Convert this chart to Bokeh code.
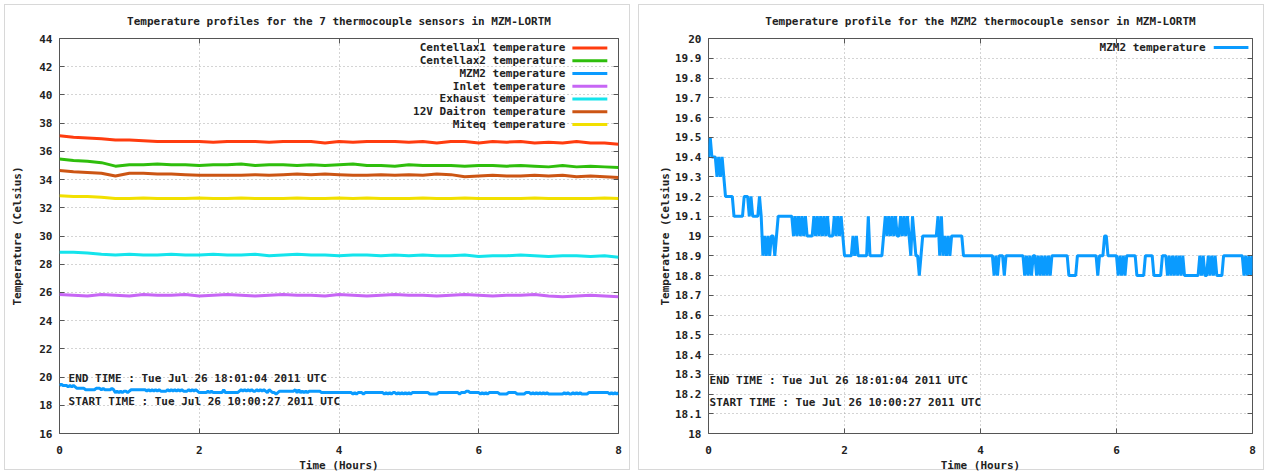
import numpy as np
from bokeh.plotting import figure
from bokeh.layouts import row
from bokeh.models import Range1d, LinearAxis, FixedTicker, Label
from bokeh.embed import file_html
from bokeh.resources import INLINE

# ---------------------------------------------------------------- data
# Six slow sensors, one reading every 0.2 h over the 8 h run
sample_hours = np.linspace(0, 8, 41)

centellax1 = [37.1, 37.0, 36.95, 36.9, 36.8, 36.8, 36.75, 36.7, 36.7, 36.7,
              36.7, 36.65, 36.7, 36.7, 36.7, 36.65, 36.7, 36.7, 36.7, 36.6,
              36.7, 36.65, 36.7, 36.7, 36.7, 36.65, 36.7, 36.6, 36.7, 36.7,
              36.6, 36.7, 36.65, 36.7, 36.6, 36.65, 36.6, 36.7, 36.6, 36.6, 36.5]
centellax2 = [35.45, 35.35, 35.3, 35.2, 34.95, 35.05, 35.05, 35.1, 35.05, 35.05,
              35.0, 35.05, 35.05, 35.1, 35.0, 35.05, 35.05, 35.0, 35.05, 35.0,
              35.05, 35.1, 35.0, 35.0, 34.95, 35.05, 35.0, 35.0, 35.0, 34.95,
              35.0, 35.0, 34.95, 35.0, 34.95, 34.9, 35.0, 34.9, 34.95, 34.9, 34.85]
inlet = [25.85, 25.8, 25.75, 25.85, 25.8, 25.75, 25.85, 25.8, 25.8, 25.85,
         25.75, 25.8, 25.85, 25.8, 25.75, 25.8, 25.85, 25.8, 25.8, 25.75,
         25.85, 25.8, 25.75, 25.8, 25.85, 25.8, 25.8, 25.75, 25.8, 25.85,
         25.8, 25.75, 25.8, 25.8, 25.85, 25.75, 25.7, 25.75, 25.8, 25.75, 25.7]
exhaust = [28.85, 28.85, 28.8, 28.7, 28.65, 28.7, 28.65, 28.65, 28.7, 28.65,
           28.65, 28.7, 28.65, 28.65, 28.7, 28.6, 28.65, 28.7, 28.65, 28.65,
           28.6, 28.65, 28.65, 28.6, 28.65, 28.6, 28.65, 28.6, 28.6, 28.65,
           28.55, 28.6, 28.6, 28.65, 28.6, 28.55, 28.6, 28.6, 28.55, 28.6, 28.5]
daitron = [34.65, 34.55, 34.5, 34.45, 34.25, 34.45, 34.45, 34.4, 34.4, 34.35,
           34.3, 34.3, 34.3, 34.3, 34.35, 34.3, 34.35, 34.4, 34.35, 34.4,
           34.35, 34.3, 34.3, 34.35, 34.3, 34.35, 34.3, 34.4, 34.35, 34.2,
           34.25, 34.3, 34.25, 34.25, 34.3, 34.25, 34.3, 34.2, 34.25, 34.2, 34.15]
miteq = [32.85, 32.8, 32.8, 32.75, 32.65, 32.65, 32.7, 32.65, 32.65, 32.65,
         32.7, 32.65, 32.65, 32.7, 32.65, 32.65, 32.65, 32.7, 32.65, 32.65,
         32.7, 32.65, 32.7, 32.65, 32.65, 32.65, 32.7, 32.65, 32.65, 32.7,
         32.65, 32.65, 32.65, 32.65, 32.7, 32.65, 32.65, 32.65, 32.65, 32.7, 32.65]

# MZM2 sensor, one reading every 0.025 h (0.1 C resolution)
mzm2_hours = np.linspace(0, 8, 321)
mzm2 = [
    19.4, 19.5, 19.4, 19.4, 19.4, 19.3, 19.4, 19.3, 19.4, 19.3,   # 0.0
    19.2, 19.2, 19.2, 19.2, 19.2, 19.1, 19.1, 19.1, 19.1, 19.1,   # 0.25
    19.1, 19.2, 19.2, 19.2, 19.1, 19.2, 19.1, 19.1, 19.1, 19.1,   # 0.5
    19.2, 19.1, 18.9, 19.0, 18.9, 19.0, 18.9, 19.0, 19.0, 18.9,   # 0.75
    19.0, 19.1, 19.1, 19.1, 19.1, 19.1, 19.1, 19.1, 19.1, 19.1,   # 1.0
    19.0, 19.1, 19.0, 19.1, 19.0, 19.1, 19.0, 19.1, 19.0, 19.0,   # 1.25
    19.0, 19.0, 19.1, 19.0, 19.1, 19.0, 19.1, 19.0, 19.1, 19.0,   # 1.5
    19.1, 19.0, 19.0, 19.0, 19.1, 19.0, 19.1, 19.0, 19.1, 19.0,   # 1.75
    18.9, 18.9, 18.9, 18.9, 18.9, 19.0, 18.9, 19.0, 18.9, 18.9,   # 2.0
    18.9, 18.9, 18.9, 18.9, 19.1, 18.9, 18.9, 18.9, 18.9, 18.9,   # 2.25
    18.9, 18.9, 18.9, 19.0, 19.1, 19.0, 19.1, 19.0, 19.1, 19.0,   # 2.5
    19.1, 19.0, 19.0, 19.1, 19.0, 19.1, 19.0, 19.1, 19.0, 18.9,   # 2.75
    19.1, 19.0, 18.9, 18.9, 18.8, 18.9, 19.0, 19.0, 19.0, 19.0,   # 3.0
    19.0, 19.0, 19.0, 19.0, 19.0, 19.1, 18.9, 19.1, 18.9, 19.0,   # 3.25
    18.9, 19.0, 18.9, 19.0, 19.0, 19.0, 19.0, 19.0, 19.0, 19.0,   # 3.5
    18.9, 18.9, 18.9, 18.9, 18.9, 18.9, 18.9, 18.9, 18.9, 18.9,   # 3.75
    18.9, 18.9, 18.9, 18.9, 18.9, 18.9, 18.9, 18.9, 18.8, 18.9,   # 4.0
    18.8, 18.9, 18.9, 18.9, 18.8, 18.9, 18.9, 18.9, 18.9, 18.9,   # 4.25
    18.9, 18.9, 18.9, 18.9, 18.9, 18.9, 18.8, 18.9, 18.8, 18.9,   # 4.5
    18.8, 18.9, 18.9, 18.8, 18.9, 18.8, 18.9, 18.8, 18.9, 18.8,   # 4.75
    18.9, 18.8, 18.9, 18.9, 18.9, 18.9, 18.9, 18.9, 18.9, 18.9,   # 5.0
    18.9, 18.9, 18.8, 18.8, 18.8, 18.8, 18.8, 18.9, 18.9, 18.9,   # 5.25
    18.9, 18.9, 18.9, 18.9, 18.9, 18.9, 18.9, 18.9, 18.9, 18.8,   # 5.5
    18.9, 18.9, 18.9, 19.0, 19.0, 18.9, 18.9, 18.9, 18.9, 18.9,   # 5.75
    18.9, 18.8, 18.9, 18.8, 18.9, 18.8, 18.9, 18.9, 18.9, 18.9,   # 6.0
    18.9, 18.9, 18.8, 18.8, 18.8, 18.8, 18.8, 18.9, 18.9, 18.9,   # 6.25
    18.9, 18.9, 18.8, 18.8, 18.8, 18.8, 18.8, 18.9, 18.9, 18.9,   # 6.5
    18.8, 18.9, 18.8, 18.9, 18.8, 18.9, 18.8, 18.9, 18.8, 18.9,   # 6.75
    18.8, 18.8, 18.8, 18.8, 18.8, 18.8, 18.8, 18.8, 18.8, 18.9,   # 7.0
    18.8, 18.9, 18.8, 18.8, 18.9, 18.8, 18.9, 18.8, 18.9, 18.8,   # 7.25
    18.8, 18.8, 18.8, 18.9, 18.9, 18.9, 18.9, 18.9, 18.9, 18.9,   # 7.5
    18.9, 18.9, 18.9, 18.9, 18.9, 18.8, 18.9, 18.8, 18.9, 18.8,   # 7.75
    18.9,                                                         # 8.0
]

left_series = [
    ("Centellax1 temperature", centellax1, "#ff3c0f"),
    ("Centellax2 temperature", centellax2, "#2fbe0c"),
    ("MZM2 temperature", mzm2, "#0a9bff"),
    ("Inlet temperature", inlet, "#c766f5"),
    ("Exhaust temperature", exhaust, "#14e4ec"),
    ("12V Daitron temperature", daitron, "#cc5514"),
    ("Miteq temperature", miteq, "#f2e000"),
]

time_ticks = [0, 2, 4, 6, 8]
left_yticks = [16, 18, 20, 22, 24, 26, 28, 30, 32, 34, 36, 38, 40, 42, 44]
right_yticks = [18.0, 18.1, 18.2, 18.3, 18.4, 18.5, 18.6, 18.7, 18.8, 18.9,
                19.0, 19.1, 19.2, 19.3, 19.4, 19.5, 19.6, 19.7, 19.8, 19.9, 20.0]
right_ytick_labels = ["18", "18.1", "18.2", "18.3", "18.4", "18.5", "18.6",
                      "18.7", "18.8", "18.9", "19", "19.1", "19.2", "19.3",
                      "19.4", "19.5", "19.6", "19.7", "19.8", "19.9", "20"]

end_time = "END TIME : Tue Jul 26 18:01:04 2011 UTC"
start_time = "START TIME : Tue Jul 26 10:00:27 2011 UTC"

# ---------------------------------------------------------------- style
FONT = "DejaVu Sans Mono"
FS = "11px"
FRAME = "#555555"
GRID = "#a8a8a8"
INK = "#222222"


def tick_key(v):
    return int(v) if float(v).is_integer() else v


def make_panel(title, x_rng, y_rng, yticks, ylabels, left_border, label_standoff):
    p = figure(width=634, height=474, x_range=Range1d(*x_rng), y_range=Range1d(*y_rng),
               output_backend="svg", toolbar_location=None,
               min_border_left=left_border, min_border_right=16,
               min_border_top=38, min_border_bottom=40)
    # light frame around each panel, seen through a transparent border area
    p.styles = {"box-shadow": "inset 0 0 0 4px #ffffff, inset 0 0 0 5px #d8d8d8",
                "background-color": "#ffffff"}
    p.background_fill_color = "white"
    p.border_fill_alpha = 0
    p.outline_line_color = FRAME
    p.outline_line_width = 1

    p.title.text = title
    p.title.align = "center"
    p.title.text_font = FONT
    p.title.text_font_size = FS
    p.title.text_font_style = "bold"
    p.title.text_color = INK
    p.title.standoff = 22

    xt = FixedTicker(ticks=time_ticks)
    yt = FixedTicker(ticks=yticks)
    p.xaxis.ticker = xt
    p.yaxis.ticker = yt
    if ylabels is not None:
        p.yaxis.major_label_overrides = {tick_key(v): s for v, s in zip(yticks, ylabels)}

    p.xaxis.axis_label = "Time (Hours)"
    p.yaxis.axis_label = "Temperature (Celsius)"
    p.xaxis.major_label_standoff = 12
    p.xaxis.axis_label_standoff = 2
    p.yaxis.major_label_standoff = 7
    p.yaxis.axis_label_standoff = label_standoff

    # mirrored tick marks on the top and right edges, without labels
    top = LinearAxis(ticker=xt, major_label_overrides={tick_key(v): "" for v in time_ticks})
    side = LinearAxis(ticker=yt, major_label_overrides={tick_key(v): "" for v in yticks})
    p.add_layout(top, "above")
    p.add_layout(side, "right")

    for ax in p.axis:
        ax.axis_line_color = None
        ax.major_tick_line_color = FRAME
        ax.major_tick_in = 5
        ax.major_tick_out = 0
        ax.minor_tick_line_color = None
        ax.major_label_text_font = FONT
        ax.major_label_text_font_size = FS
        ax.major_label_text_font_style = "bold"
        ax.major_label_text_color = INK
        ax.axis_label_text_font = FONT
        ax.axis_label_text_font_size = FS
        ax.axis_label_text_font_style = "bold"
        ax.axis_label_text_color = INK
    for ax in (top, side):
        ax.major_label_standoff = 0

    p.grid.grid_line_color = GRID
    p.grid.grid_line_dash = "1 3"
    p.grid.grid_line_width = 1
    return p


def add_key(p, entries, x_text, x0, x1, y_top, y_step):
    for i, (name, color) in enumerate(entries):
        y = y_top - i * y_step
        p.add_layout(Label(x=x_text, y=y, text=name, text_align="right",
                           text_baseline="middle", text_font=FONT,
                           text_font_size=FS, text_font_style="bold",
                           text_color=INK))
        p.segment(x0=[x0], y0=[y], x1=[x1], y1=[y], line_color=color,
                  line_width=3)


def add_times(p, x, y_end, y_start):
    for y, t in ((y_end, end_time), (y_start, start_time)):
        p.add_layout(Label(x=x, y=y, text=t, text_baseline="middle",
                           text_font=FONT, text_font_size=FS,
                           text_font_style="bold", text_color=INK))


# ---------------------------------------------------------------- left panel
left = make_panel("Temperature profiles for the 7 thermocouple sensors in MZM-LORTM",
                  (0, 8), (16, 44), left_yticks, None, 59, 12)
for name, vals, color in left_series:
    xs = mzm2_hours if vals is mzm2 else sample_hours
    left.line(xs, vals, line_color=color, line_width=3)
add_key(left, [(n, c) for n, _, c in left_series], 7.24, 7.34, 7.84, 43.33, 0.903)
add_times(left, 0.13, 19.92, 18.3)

# ---------------------------------------------------------------- right panel
right = make_panel("Temperature profile for the MZM2 thermocouple sensor in MZM-LORTM",
                   (0, 8), (18, 20), right_yticks, right_ytick_labels, 74, 0)
right.line(mzm2_hours, mzm2, line_color="#0a9bff", line_width=3)
add_key(right, [("MZM2 temperature", "#0a9bff")], 7.31, 7.43, 7.94, 19.955, 0.1)
add_times(right, 0.015, 18.27, 18.157)

layout = row(left, right)
open("out.html", "w").write(file_html(layout, INLINE))
